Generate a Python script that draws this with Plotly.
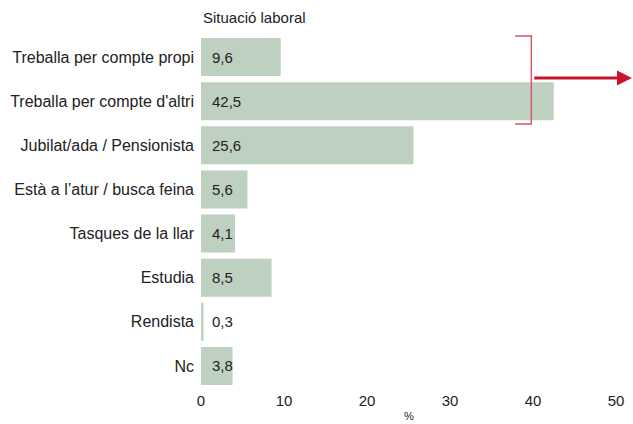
import plotly.graph_objects as go

categories = [
    "Treballa per compte propi",
    "Treballa per compte d'altri",
    "Jubilat/ada / Pensionista",
    "Està a l’atur / busca feina",
    "Tasques de la llar",
    "Estudia",
    "Rendista",
    "Nc",
]
values = [9.6, 42.5, 25.6, 5.6, 4.1, 8.5, 0.3, 3.8]
x_ticks = [0, 10, 20, 30, 40, 50]

FONT = "Liberation Sans, Arial, sans-serif"
TXT = "#222"
BAR = "#bed0c0"

fig = go.Figure()
fig.add_trace(go.Bar(
    y=categories,
    x=values,
    orientation="h",
    marker=dict(color=BAR, line=dict(width=0)),
    hoverinfo="skip",
))

# value labels placed just right of the zero baseline
for cat, v in zip(categories, values):
    fig.add_annotation(
        x=0, y=cat, xref="x", yref="y",
        text=f"{v:.1f}".replace(".", ","),
        showarrow=False, xanchor="left", xshift=9,
        font=dict(family=FONT, size=15, color=TXT),
    )

# bracket grouping the two working categories, with arrow to the right
fig.add_shape(type="path", xref="paper", yref="paper",
              path="M 0.757 0.997 L 0.796 0.997 L 0.796 0.748 L 0.757 0.748",
              line=dict(color="#d9566b", width=1.5))
fig.add_annotation(
    xref="paper", yref="paper", x=1.05, y=0.878,
    ax=-104, ay=0, axref="pixel", ayref="pixel",
    showarrow=True, arrowhead=2, arrowsize=1, arrowwidth=3,
    arrowcolor="#c8152f", text="",
)

fig.add_annotation(
    xref="paper", yref="paper", x=0.0, y=1.0, yshift=18,
    xanchor="left", yanchor="middle", showarrow=False,
    text="Situació laboral", font=dict(family=FONT, size=15, color=TXT),
)
fig.add_annotation(
    xref="paper", yref="paper", x=0.5, y=0.0, yshift=-28,
    xanchor="center", yanchor="middle", showarrow=False,
    text="%", font=dict(family=FONT, size=11, color=TXT),
)

fig.update_layout(
    width=633, height=424,
    margin=dict(l=201, r=17, t=35, b=36),
    paper_bgcolor="white", plot_bgcolor="white",
    bargap=0.14, showlegend=False,
    font=dict(family=FONT, size=15, color=TXT),
    xaxis=dict(
        range=[0, 50], tickvals=x_ticks, showgrid=False, zeroline=False,
        showline=False, ticks="", tickfont=dict(size=15),
        ticklabelstandoff=2, automargin=False,
    ),
    yaxis=dict(
        categoryorder="array", categoryarray=categories, autorange="reversed",
        showgrid=False, zeroline=False, showline=False, ticks="",
        ticklabelstandoff=6, tickfont=dict(size=16), automargin=False,
    ),
)

fig.write_html("out.html")
